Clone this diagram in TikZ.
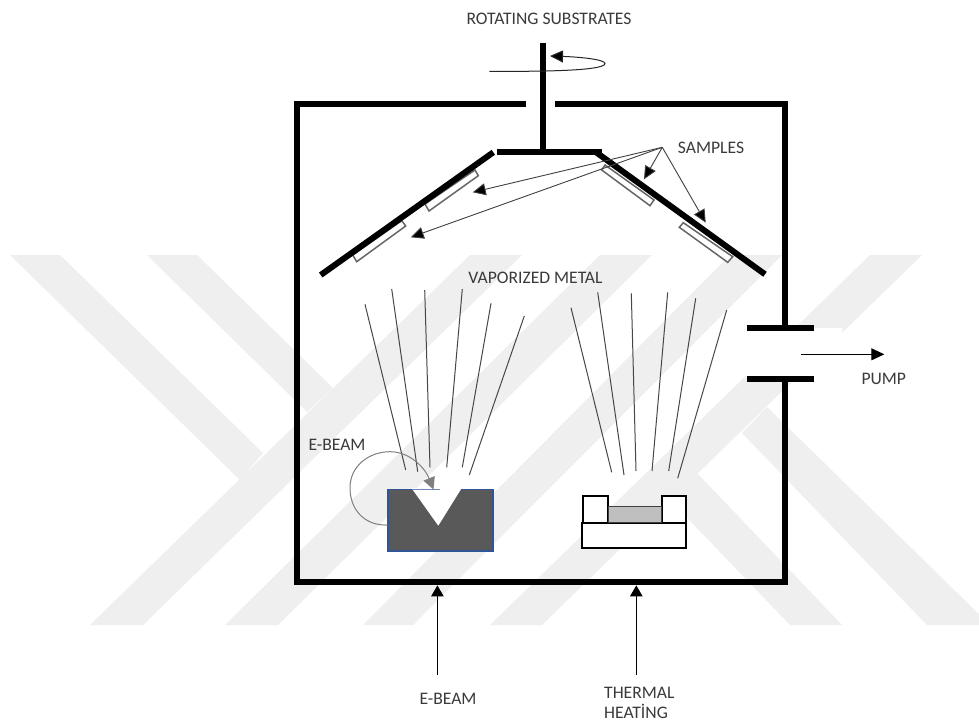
\documentclass[tikz,border=0pt]{standalone}
\usepackage{fontspec}
\setmainfont{Carlito}
\usetikzlibrary{arrows.meta}
\definecolor{wm}{HTML}{EFEFEF}
\definecolor{txt}{HTML}{3A3A3A}
\definecolor{crucible}{HTML}{595959}
\definecolor{crucedge}{HTML}{2F5597}
\definecolor{beam}{HTML}{7F7F7F}
\definecolor{sampleedge}{HTML}{666666}
\tikzset{
  wmband/.style={fill=wm,draw=none},
  wall/.style={draw=black,line width=6pt,line cap=butt,line join=miter},
  armline/.style={draw=black,line width=6pt,line cap=butt},
  samplebox/.style={draw=sampleedge,line width=1.5pt,fill=white,line join=miter},
  fanline/.style={draw=black!72,line width=1pt},
  leader/.style={draw=black!75,line width=0.9pt,-{Triangle[length=13pt,width=12pt,fill=black]}},
  feedarrow/.style={draw=black,line width=0.9pt,-{Triangle[length=11pt,width=12.5pt]}},
  heaterbox/.style={draw=black,line width=1.7pt,fill=white},
  lbl/.style={text=txt,font=\fontsize{17.6}{20}\selectfont,inner sep=0pt,align=left}
}
\begin{document}
\begin{tikzpicture}[x=1pt,y=-1pt]
\useasboundingbox (0,0) rectangle (979,722);
\fill[white] (0,0) rectangle (979,722);
% watermark
\begin{scope}
\clip (0,0) rectangle (979,722);
\fill[wmband] (90,625) -- (143,625) -- (522,255) -- (470,255) -- cycle;
\fill[wmband] (225,625) -- (278,625) -- (652,255) -- (600,255) -- cycle;
\fill[wmband] (363,625) -- (413,625) -- (782,255) -- (730,255) -- cycle;
\fill[wmband] (490,625) -- (542,625) -- (922,255) -- (870,255) -- cycle;
\fill[wmband] (10,255) -- (60,255) -- (263,453) -- (240,480) -- cycle;
\fill[wmband] (147,255) -- (197,255) -- (333,388) -- (307,412) -- cycle;
\fill[wmband] (790,625) -- (842,625) -- (697,473) -- (670,500) -- cycle;
\fill[wmband] (927,625) -- (990,625) -- (767,407) -- (742,433) -- cycle;
\end{scope}
% white patch at the pump opening
\fill[white] (746,328) rectangle (842,378);
% chamber
\coordinate (topL) at (526,103.7);
\coordinate (topR) at (555.3,103.7);
\coordinate (cornerTL) at (296.5,103.7);
\coordinate (cornerBL) at (296.5,582.3);
\coordinate (cornerBR) at (785,582.3);
\coordinate (cornerTR) at (785,103.7);
\coordinate (flangeU) at (785,328);
\coordinate (flangeL) at (785,378.7);
\draw[wall] (topL) -- (cornerTL) -- (cornerBL) -- (cornerBR) -- (flangeL);
\draw[wall] (topR) -- (cornerTR) -- (flangeU);
\coordinate (fuA) at (746.7,328);
\coordinate (fuB) at (814.3,328);
\coordinate (flA) at (746.7,378.7);
\coordinate (flB) at (814.3,378.7);
\draw[wall] (fuA) -- (fuB);
\draw[wall] (flA) -- (flB);
% shaft and holder
\coordinate (shaftT) at (543,43.3);
\coordinate (shaftB) at (543,152);
\coordinate (holdL) at (496.7,152.3);
\coordinate (holdR) at (601.7,152.3);
\draw[wall] (shaftT) -- (shaftB);
\draw[wall] (holdL) -- (holdR);
% rotation arrow
\coordinate (rotS) at (489.3,71.3);
\coordinate (rotM) at (605,63.5);
\coordinate (rotE) at (550,56);
\draw[draw=black!85,line width=1pt,-{Triangle[length=13pt,width=12pt,fill=black]}]
  (rotS) .. controls (530,71.5) and (605,71.5) .. (rotM) .. controls (605,59.5) and (580,57) .. (rotE);
% samples (under arms)
\draw[samplebox] (475,170) -- (478.3,175.7) -- (429,211) -- (425,204) -- cycle;
\draw[samplebox] (401.7,220.7) -- (405.7,226) -- (356.7,261.7) -- (352.7,255) -- cycle;
\draw[samplebox] (605,165) -- (654,200) -- (650,205.7) -- (601.7,170) -- cycle;
\draw[samplebox] (683.3,222.7) -- (732.7,256.7) -- (727.7,262.3) -- (679.3,227.3) -- cycle;
% arms
\coordinate (armLa) at (493.3,152.3);
\coordinate (armLb) at (320.7,275);
\coordinate (armRa) at (596.7,152.7);
\coordinate (armRb) at (765,274.3);
\draw[armline] (armLa) -- (armLb);
\draw[armline] (armRa) -- (armRb);
% sample leaders
\coordinate (hub) at (662.3,147.3);
\coordinate (s1) at (472.7,192.3);
\coordinate (s2) at (410.7,237.3);
\coordinate (s3) at (644,179.3);
\coordinate (s4) at (705.7,222.7);
\draw[leader] (hub) -- (s1);
\draw[leader] (hub) -- (s2);
\draw[leader] (hub) -- (s3);
\draw[leader] (hub) -- (s4);
% vapor fans
\draw[fanline] (365,304.3) -- (405.7,470);
\draw[fanline] (391.7,289) -- (417.7,471.7);
\draw[fanline] (424.7,290) -- (430,467.3);
\draw[fanline] (462.3,289) -- (446.7,467.3);
\draw[fanline] (491,303.3) -- (462.3,467.3);
\draw[fanline] (524.3,316) -- (469.3,475);
\draw[fanline] (571,307.7) -- (611.7,472.3);
\draw[fanline] (597.7,292.3) -- (624,475);
\draw[fanline] (631.3,293.3) -- (636,471);
\draw[fanline] (667.7,292.3) -- (652,471);
\draw[fanline] (695.7,298.3) -- (668.7,471);
\draw[fanline] (726.7,310) -- (677.7,478.3);
% crucible
\draw[fill=crucible,draw=crucedge,line width=1.6pt] (387.7,489.6) rectangle (492.7,550.7);
\fill[white] (411.7,488.4) -- (461.5,488.4) -- (438.3,525.7) -- cycle;
\draw[draw=crucedge!70,line width=0.7pt] (411.7,489) -- (440,489);
% e-beam curve
\coordinate (ebS) at (387.7,525);
\coordinate (ebL) at (350,488);
\coordinate (ebT) at (390,451.7);
\coordinate (ebE) at (433.5,489.5);
\draw[draw=beam,line width=1pt,-{Triangle[length=12pt,width=12pt]}]
  (ebS) .. controls (365,526) and (350,510) .. (ebL) .. controls (350,465) and (370,451.7) .. (ebT) .. controls (410,451.7) and (425,468) .. (ebE);
% heater
\draw[heaterbox] (581.7,522.7) rectangle (686,548.3);
\draw[heaterbox] (582.7,496) rectangle (607.7,522.7);
\draw[heaterbox] (661.7,496) rectangle (686,522.7);
\draw[fill=black!25,draw=black!75,line width=1.5pt] (608.3,506.7) rectangle (661.7,522.7);
% feed arrows
\coordinate (f1a) at (437.4,675);
\coordinate (f1b) at (437.4,585.4);
\coordinate (f2a) at (636.3,675);
\coordinate (f2b) at (636.3,585.4);
\draw[feedarrow] (f1a) -- (f1b);
\draw[feedarrow] (f2a) -- (f2b);
\coordinate (pa) at (800.7,354.3);
\coordinate (pb) at (884.3,354.3);
\draw[feedarrow,-{Triangle[length=13pt,width=12pt]}] (pa) -- (pb);
% labels
\node[lbl] (tRot) at (549,19) {ROTATING SUBSTRATES};
\node[lbl] (tSam) at (711,148.3) {SAMPLES};
\node[lbl] (tVap) at (535.5,278.3) {VAPORIZED METAL};
\node[lbl] (tPump) at (883.8,379.3) {PUMP};
\node[lbl] (tEb1) at (337,445) {E-BEAM};
\node[lbl] (tEb2) at (448,699.3) {E-BEAM};
\node[lbl] (tThm) at (604,703.3) [anchor=west] {THERMAL\\HEATİNG};
\end{tikzpicture}
\end{document}
